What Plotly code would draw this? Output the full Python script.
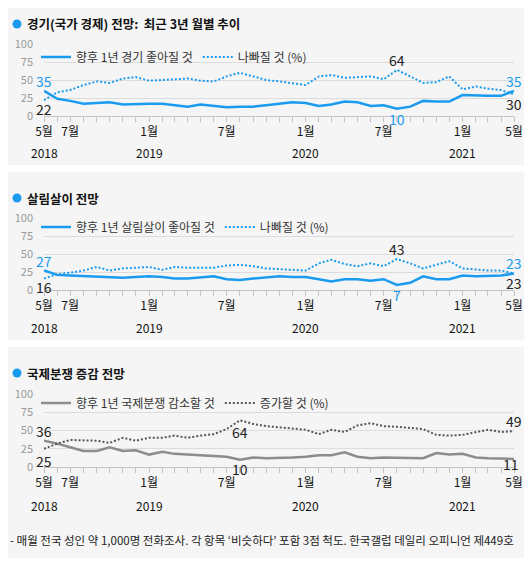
import pandas as pd
import plotly.graph_objects as go

# monthly, May 2018 - May 2021
months = pd.date_range("2018-05-01", "2021-05-01", freq="MS")

tick_dates = ["2018-05-01", "2018-07-01", "2019-01-01", "2019-07-01",
              "2020-01-01", "2020-07-01", "2021-01-01", "2021-05-01"]
tick_text = ["5월", "7월", "1월", "7월", "1월", "7월", "1월", "5월"]
year_dates = ["2018-05-01", "2019-01-01", "2020-01-01", "2021-01-01"]
year_text = ["2018", "2019", "2020", "2021"]

econ_better = [35, 24, 21, 17, 18, 19, 16, 17, 17, 17, 15, 13, 16, 14, 12, 13, 13, 15, 17,
               19, 18, 14, 16, 20, 19, 14, 15, 10, 13, 21, 20, 20, 29, 28, 28, 28, 35]
econ_worse = [22, 33, 36, 43, 48, 46, 52, 54, 49, 50, 51, 52, 49, 48, 55, 60, 55, 50, 48,
              46, 43, 55, 57, 53, 54, 55, 51, 64, 55, 46, 47, 55, 37, 41, 38, 36, 30]

living_better = [27, 21, 20, 19, 19, 18, 17, 18, 19, 18, 16, 16, 17, 19, 15, 14, 16, 17, 19,
                 18, 18, 15, 12, 15, 15, 13, 15, 7, 10, 19, 15, 15, 20, 19, 19, 20, 23]
living_worse = [16, 22, 24, 27, 32, 27, 30, 31, 32, 28, 32, 31, 31, 31, 34, 35, 33, 30, 29,
                28, 27, 37, 42, 36, 33, 37, 33, 43, 37, 30, 35, 40, 30, 28, 27, 27, 23]

conflict_less = [36, 32, 27, 22, 22, 27, 22, 23, 17, 21, 18, 17, 16, 15, 14, 10, 13, 12, 12,
                 13, 14, 16, 16, 20, 14, 12, 13, 13, 12, 12, 19, 17, 18, 13, 12, 11, 11]
conflict_more = [25, 32, 37, 37, 36, 33, 40, 36, 40, 40, 43, 40, 43, 45, 52, 64, 59, 56, 54,
                 52, 51, 45, 51, 48, 57, 60, 56, 55, 53, 52, 44, 43, 44, 48, 51, 48, 49]

titles = ["경기(국가 경제) 전망:  최근 3년 월별 추이", "살림살이 전망", "국제분쟁 증감 전망"]
names_solid = ["향후 1년 경기 좋아질 것", "향후 1년 살림살이 좋아질 것", "향후 1년 국제분쟁 감소할 것"]
names_dot = ["나빠질 것 (%)", "나빠질 것 (%)", "증가할 것 (%)"]

BLUE = "#1a9bf0"
DARK = "#222222"
FONT = "Noto Sans CJK KR"

# the page body keeps its default 8px margin, so the figure is drawn 8px in
OFF = 8
W, H = 532 - OFF, 562 - OFF

panels = [
    dict(solid=econ_better, dot=econ_worse, c_solid=BLUE, c_dot=BLUE,
         lab_solid=BLUE, lab_dot=DARK, y0=116, y100=44, ty=24, ly=57, yy=153, box=(3, 165)),
    dict(solid=living_better, dot=living_worse, c_solid=BLUE, c_dot=BLUE,
         lab_solid=BLUE, lab_dot=DARK, y0=290, y100=218, ty=198, ly=227, yy=327, box=(172, 340)),
    dict(solid=conflict_less, dot=conflict_more, c_solid="#8c8c8c", c_dot="#555555",
         lab_solid=DARK, lab_dot=DARK, y0=467, y100=394, ty=373, ly=403, yy=505, box=(347, 558)),
]


def px_(x):
    return (x - OFF) / W


def py(y):
    return 1 - (y - OFF) / H


fig = go.Figure()
annotations = []
shapes = []

for k, p in enumerate(panels):
    n = "" if k == 0 else str(k + 1)
    xa, ya = "x" + n, "y" + n
    leg = "legend" + n

    fig.add_trace(go.Scatter(x=months, y=p["solid"], name=names_solid[k], mode="lines",
                             line=dict(color=p["c_solid"], width=2.5),
                             xaxis=xa, yaxis=ya, legend=leg))
    fig.add_trace(go.Scatter(x=months, y=p["dot"], name=names_dot[k], mode="lines",
                             line=dict(color=p["c_dot"], width=2, dash="2px,2px"),
                             xaxis=xa, yaxis=ya, legend=leg))

    fig.layout["xaxis" + n] = dict(
        domain=[px_(44), px_(514)], anchor=ya, type="date", automargin=False,
        range=[months[0], months[-1]],
        tickvals=tick_dates, ticktext=tick_text,
        tickfont=dict(size=12, color="#111111", family=FONT),
        ticks="outside", ticklen=5, tickcolor="#c4c4c4",
        showline=True, linecolor="#c4c4c4", showgrid=False, zeroline=False,
        minor=dict(ticks="outside", ticklen=5, tickcolor="#c4c4c4",
                   dtick="M1", tick0="2018-05-01", showgrid=False),
        fixedrange=True,
    )
    fig.layout["yaxis" + n] = dict(
        domain=[py(p["y0"]), py(p["y100"])], anchor=xa, range=[0, 100], automargin=False,
        tickvals=[0, 25, 50, 75, 100],
        tickfont=dict(size=11, color="#999999", family=FONT),
        showgrid=True, gridcolor="#dcdcdc", zeroline=False, ticks="",
        ticklabelstandoff=10, fixedrange=True,
    )
    fig.layout[leg] = dict(
        orientation="h", x=px_(36), xanchor="left", y=py(p["ly"]), yanchor="middle",
        bgcolor="rgba(0,0,0,0)", font=dict(size=12, color="#333333", family=FONT),
        itemwidth=30, tracegroupgap=0,
    )

    # panel background box
    shapes.append(dict(type="rect", xref="paper", yref="paper", layer="below",
                       x0=0, x1=px_(530), y0=py(p["box"][1]), y1=py(p["box"][0]),
                       fillcolor="#f5f5f5", line=dict(width=0)))
    # title dot and title
    shapes.append(dict(type="circle", xref="paper", yref="paper",
                       x0=px_(12.5), x1=px_(21.5), y0=py(p["ty"] + 4.5), y1=py(p["ty"] - 4.5),
                       fillcolor=BLUE, line=dict(width=0)))
    annotations.append(dict(text="<b>" + titles[k] + "</b>", xref="paper", yref="paper",
                            x=px_(25), y=py(p["ty"]), xanchor="left", yanchor="middle",
                            showarrow=False, font=dict(size=12.5, color="#111111", family=FONT)))
    # year labels
    for d, t in zip(year_dates, year_text):
        annotations.append(dict(text=t, xref=xa, yref="paper", x=d, y=py(p["yy"]),
                                xanchor="center", yanchor="middle", showarrow=False,
                                font=dict(size=12, color="#111111", family=FONT)))

    # data labels
    def lab(i, series, color, shift, xshift=0):
        annotations.append(dict(text=str(series[i]), xref=xa, yref=ya, x=months[i], y=series[i],
                                xanchor="center", yanchor="middle", yshift=shift, xshift=xshift,
                                showarrow=False, font=dict(size=14, color=color, family=FONT)))

    s, d = p["solid"], p["dot"]
    last = len(months) - 1
    if k < 2:
        lab(0, s, p["lab_solid"], 10)
        lab(0, d, p["lab_dot"], -9)
        lab(d.index(max(d)), d, p["lab_dot"], 10)
        lab(s.index(min(s)), s, p["lab_solid"], -10)
        lab(last, s, p["lab_solid"], 10)
        lab(last, d, p["lab_dot"], -10)
    else:
        lab(0, s, p["lab_solid"], 10)
        lab(0, d, p["lab_dot"], -12)
        lab(d.index(max(d)), d, p["lab_dot"], -12)
        lab(s.index(min(s)), s, p["lab_solid"], -9)
        lab(last, d, p["lab_dot"], 10)
        lab(last, s, p["lab_solid"], -5, -3)

annotations.append(dict(
    text="- 매월 전국 성인 약 1,000명 전화조사. 각 항목 ‘비슷하다’ 포함 3점 척도. 한국갤럽 데일리 오피니언 제449호",
    xref="paper", yref="paper", x=0, y=py(540), xanchor="left", yanchor="middle",
    showarrow=False, font=dict(size=11.5, color="#222222", family=FONT)))

fig.update_layout(
    width=W, height=H, autosize=False,
    margin=dict(l=0, r=0, t=0, b=0, pad=0),
    paper_bgcolor="#ffffff", plot_bgcolor="#f5f5f5",
    font=dict(family=FONT),
    showlegend=True,
    shapes=shapes, annotations=annotations,
)

fig.write_html("out.html")
